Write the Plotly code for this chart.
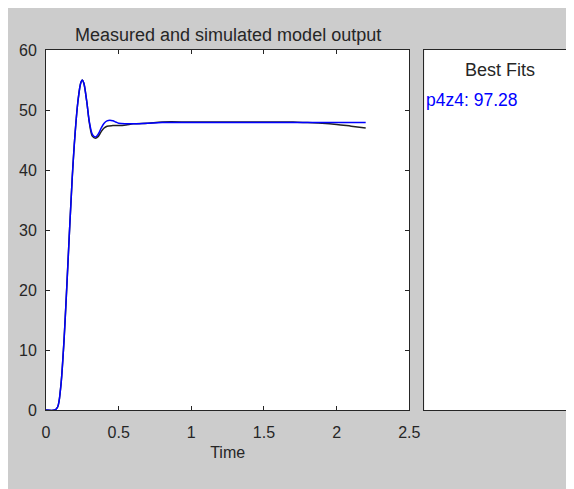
import plotly.graph_objects as go

t_sim = [0, 0.06, 0.08, 0.10, 0.12, 0.14, 0.16, 0.18, 0.20, 0.22, 0.24, 0.25, 0.26, 0.28,
         0.30, 0.32, 0.34, 0.36, 0.38, 0.40, 0.42, 0.44, 0.46, 0.48, 0.50, 0.55, 0.60,
         0.70, 0.80, 1.0, 1.5, 2.0, 2.2]
y_sim = [0, 0, 0.5, 3.5, 10, 19, 29, 38.5, 46, 51.5, 54.6, 55, 54.5, 51.5,
         47.8, 45.9, 45.5, 46.0, 47.0, 47.8, 48.2, 48.3, 48.2, 48.0, 47.8, 47.7, 47.7,
         47.8, 47.9, 47.9, 47.9, 47.9, 47.9]

t_meas = [0, 0.06, 0.08, 0.10, 0.12, 0.14, 0.16, 0.18, 0.20, 0.22, 0.24, 0.25, 0.26, 0.28,
          0.30, 0.32, 0.34, 0.36, 0.38, 0.40, 0.42, 0.46, 0.50, 0.55, 0.60, 0.70, 0.80,
          1.0, 1.2, 1.5, 1.7, 1.8, 1.9, 2.0, 2.1, 2.2]
y_meas = [0, 0, 0.5, 3.5, 10, 19, 29, 38.5, 46, 51.5, 54.6, 55, 54.5, 51.5,
          47.6, 45.6, 45.3, 45.6, 46.4, 47.0, 47.3, 47.4, 47.4, 47.5, 47.7, 47.8, 48.0,
          48.0, 48.0, 48.0, 48.0, 47.9, 47.8, 47.6, 47.3, 47.0]

fit_name = "p4z4"
fit_value = 97.28

FONT = "Liberation Sans, Arial, sans-serif"
TXT = "#262626"

fig = go.Figure()
fig.add_trace(go.Scatter(x=t_meas, y=y_meas, mode="lines", line=dict(color="#222222", width=1.5, shape="spline")))
fig.add_trace(go.Scatter(x=t_sim, y=y_sim, mode="lines", line=dict(color="#0000ff", width=1.5, shape="spline")))
# empty trace so the side panel gets drawn
fig.add_trace(go.Scatter(x=[None], y=[None], xaxis="x2", yaxis="y2"))

axis_style = dict(showline=True, linecolor="#262626", linewidth=1, mirror="ticks", ticks="inside",
                  ticklen=4, tickcolor="#262626", showgrid=False, zeroline=False,
                  tickfont=dict(size=16, color=TXT, family=FONT))

fig.update_layout(
    width=574, height=489,
    margin=dict(l=38, r=0, t=42, b=87),
    paper_bgcolor="#cccccc", plot_bgcolor="white",
    showlegend=False,
    font=dict(family=FONT, color=TXT),
    xaxis=dict(domain=[0, 0.692], range=[0, 2.5], tickvals=[0, 0.5, 1, 1.5, 2, 2.5],
               ticktext=["0", "0.5", "1", "1.5", "2", "2.5"], ticklabelstandoff=8,
               title=dict(text="Time", font=dict(size=16, color=TXT), standoff=6), **axis_style),
    yaxis=dict(range=[0, 60], tickvals=[0, 10, 20, 30, 40, 50, 60], ticklabelstandoff=5, **axis_style),
    xaxis2=dict(domain=[0.7205, 1.0], anchor="y2", showticklabels=False, ticks="", showgrid=False,
                zeroline=False, showline=True, mirror=True, linecolor="#262626", range=[0, 1]),
    yaxis2=dict(anchor="x2", showticklabels=False, ticks="", showgrid=False, zeroline=False,
                showline=True, mirror=True, linecolor="#262626", range=[0, 1]),
    annotations=[
        dict(text="Measured and simulated model output", xref="paper", yref="paper", x=0.346, y=1.0,
             xanchor="center", yanchor="bottom", yshift=3, showarrow=False, font=dict(size=18, color=TXT)),
        dict(text="Best Fits", xref="paper", yref="paper", x=0.864, y=0.944, xanchor="center",
             yanchor="middle", showarrow=False, font=dict(size=18, color=TXT)),
        dict(text=f"{fit_name}: {fit_value:.2f}", xref="paper", yref="paper", x=0.7205, xanchor="left",
             y=0.861, yanchor="middle", showarrow=False, font=dict(size=17.5, color="#0000ff")),
    ],
)

fig.write_html("out.html")
